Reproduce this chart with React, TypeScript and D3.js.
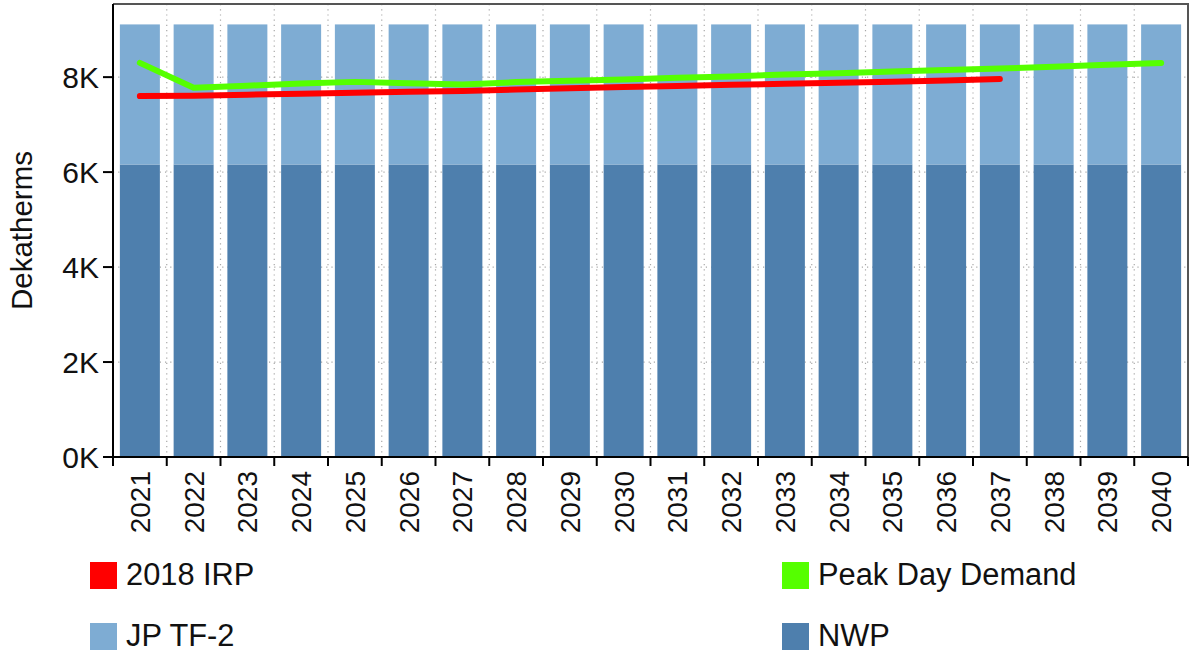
import React from 'react'
import * as d3 from 'd3'

const years = ['2021', '2022', '2023', '2024', '2025', '2026', '2027', '2028', '2029', '2030',
    '2031', '2032', '2033', '2034', '2035', '2036', '2037', '2038', '2039', '2040']

// stacked capacity bars
const nwp = [6160, 6160, 6160, 6160, 6160, 6160, 6160, 6160, 6160, 6160,
    6160, 6160, 6160, 6160, 6160, 6160, 6160, 6160, 6160, 6160]
const jpTf2 = [2950, 2950, 2950, 2950, 2950, 2950, 2950, 2950, 2950, 2950,
    2950, 2950, 2950, 2950, 2950, 2950, 2950, 2950, 2950, 2950]

// lines
const peakDayDemand = [8300, 7775, 7820, 7865, 7900, 7870, 7845, 7895, 7925, 7950,
    7985, 8015, 8055, 8080, 8120, 8150, 8180, 8220, 8260, 8300]
const irp2018 = [7600, 7610, 7630, 7650, 7670, 7690, 7710, 7740, 7765, 7790,
    7815, 7840, 7860, 7880, 7900, 7930, 7960]

const yTicks = [0, 2000, 4000, 6000, 8000]

const COLOR_NWP = '#4e7fad'
const COLOR_JP = '#7eacd3'
const COLOR_RED = '#ff0000'
const COLOR_GREEN = '#55ff00'

const FONT = 'Arial, "Liberation Sans", sans-serif'

const width = 1190
const height = 652
const margin = { top: 4, right: 2, bottom: 195, left: 113 }

export default function App() {
    const x = d3.scaleBand<string>()
        .domain(years)
        .range([margin.left, width - margin.right])
        .paddingInner(0.256)
        .paddingOuter(0.128)

    const y = d3.scaleLinear()
        .domain([0, 9540])
        .range([height - margin.bottom, margin.top])

    const step = x.step()
    const x0 = margin.left
    const yBottom = y(0)
    const cx = (yr: string) => (x(yr) as number) + x.bandwidth() / 2

    const stackData = years.map((yr, i) => ({ year: yr, nwp: nwp[i], jp: jpTf2[i] }))
    const series = d3.stack<any>().keys(['nwp', 'jp'])(stackData)
    const colors: Record<string, string> = { nwp: COLOR_NWP, jp: COLOR_JP }

    const line = d3.line<number>()
        .x((_, i) => cx(years[i]))
        .y(d => y(d))

    const boundaries = d3.range(years.length + 1).map(i => x0 + i * step)

    return (
        <svg width={width} height={height} style={{ position: 'absolute', left: 0, top: 0 }} fontFamily={FONT}>
            <rect x={0} y={0} width={width} height={height} fill='#fff' />

            {/* grid */}
            <g stroke='#a8a8a8' strokeWidth={1.2} strokeDasharray='1.2,4'>
                {boundaries.slice(1, -1).map((bx, i) => (
                    <line key={'v' + i} x1={bx} x2={bx} y1={margin.top} y2={yBottom} />
                ))}
                {yTicks.slice(1).map(t => (
                    <line key={'h' + t} x1={x0} x2={width - margin.right} y1={y(t)} y2={y(t)} />
                ))}
            </g>

            {/* bars */}
            {series.map(s => (
                <g key={s.key} fill={colors[s.key]}>
                    {s.map((d: any, i: number) => (
                        <rect key={i} x={x(years[i])} y={y(d[1])} width={x.bandwidth()} height={y(d[0]) - y(d[1])} />
                    ))}
                </g>
            ))}

            {/* lines */}
            <path d={line(irp2018) || ''} fill='none' stroke={COLOR_RED} strokeWidth={6} strokeLinecap='round' strokeLinejoin='round' />
            <path d={line(peakDayDemand) || ''} fill='none' stroke={COLOR_GREEN} strokeWidth={6} strokeLinecap='round' strokeLinejoin='round' />

            {/* frame */}
            <path d={`M${x0},${margin.top}H${width - margin.right}V${yBottom}`} fill='none' stroke='#555' strokeWidth={2} />

            {/* y axis */}
            <line x1={x0} x2={x0} y1={margin.top} y2={yBottom + 1} stroke='#000' strokeWidth={2} />
            {yTicks.map(t => (
                <g key={t} transform={`translate(0,${y(t)})`}>
                    <line x1={x0 - 10} x2={x0} stroke='#000' strokeWidth={2} />
                    <text x={x0 - 14} dy='0.36em' textAnchor='end' fontSize={30} fill='#111'>{`${t / 1000}K`}</text>
                </g>
            ))}
            <text transform={`translate(32,${(margin.top + yBottom) / 2}) rotate(-90)`} textAnchor='middle' fontSize={29.5} fill='#111'>Dekatherms</text>

            {/* x axis */}
            <line x1={x0 - 1} x2={width - margin.right} y1={yBottom} y2={yBottom} stroke='#000' strokeWidth={2} />
            {boundaries.map((bx, i) => (
                <line key={i} x1={bx} x2={bx} y1={yBottom} y2={yBottom + 9} stroke='#000' strokeWidth={2} />
            ))}
            {years.map(yr => (
                <text key={yr} transform={`translate(${cx(yr)},${yBottom + 14}) rotate(-90)`} dy='0.36em' textAnchor='end' fontSize={28} fill='#111'>{yr}</text>
            ))}

            {/* legend */}
            {[
                { label: '2018 IRP', color: COLOR_RED, lx: 90, ly: 562 },
                { label: 'Peak Day Demand', color: COLOR_GREEN, lx: 782, ly: 562 },
                { label: 'JP TF-2', color: COLOR_JP, lx: 90, ly: 623 },
                { label: 'NWP', color: COLOR_NWP, lx: 782, ly: 623 },
            ].map(l => (
                <g key={l.label} transform={`translate(${l.lx},${l.ly})`}>
                    <rect width={27} height={27} fill={l.color} />
                    <text x={36} y={22.5} fontSize={30.8} fill='#111'>{l.label}</text>
                </g>
            ))}
        </svg>
    )
}
